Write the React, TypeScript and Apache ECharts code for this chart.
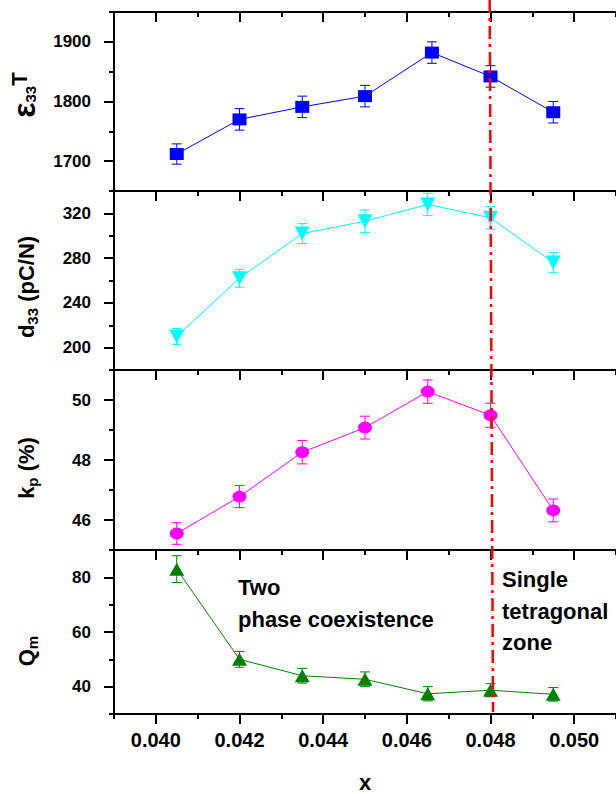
import React, { useEffect, useRef } from 'react';
import * as echarts from 'echarts';

// ---------- data ----------
const xValues = [0.0405, 0.042, 0.0435, 0.045, 0.0465, 0.048, 0.0495];
const xValuesTop = [0.0405, 0.042, 0.0435, 0.045, 0.0466, 0.048, 0.0495];

const epsValues = [1712, 1770, 1791, 1809, 1882, 1842, 1782];
const epsErrors = [17, 18, 18, 18, 18, 18, 18];

const d33Values = [210, 262, 302, 313, 328, 316, 276];
const d33Errors = [7, 8, 9, 10, 10, 10, 9];

const kpValues = [45.55, 46.78, 48.26, 49.08, 50.28, 49.49, 46.32];
const kpErrors = [0.36, 0.37, 0.39, 0.38, 0.39, 0.4, 0.38];

const qmValues = [83, 50, 44, 42.7, 37.4, 38.7, 37.2];
const qmErrors = [4.9, 2.9, 2.7, 2.7, 2.6, 2.4, 2.5];

// axis ranges: short ticks every `step` from min, long (labelled) ticks halfway between
const xRange = [0.039, 0.051];
const xStep = 0.002;
const xLabels = [0.04, 0.042, 0.044, 0.046, 0.048, 0.05];

const epsRange = [1650, 1950];
const epsStep = 100;
const epsLabels = [1700, 1800, 1900];
const d33Range = [180, 340];
const d33Step = 40;
const d33Labels = [200, 240, 280, 320];
const kpRange = [45, 51];
const kpStep = 2;
const kpLabels = [46, 48, 50];
const qmRange = [30, 90];
const qmStep = 20;
const qmLabels = [40, 60, 80];

// boundary line x (top, bottom)
const boundaryX = [0.04798, 0.04806];

// ---------- styling / layout ----------
const FONT = '"Liberation Sans", Arial, Helvetica, sans-serif';
const GRID_LEFT = 114;
const GRID_WIDTH = 503;
const gridTops = [12, 191, 370, 550];
const gridHeights = [179, 179, 180, 179];

const panels = [
  { x: xValuesTop, y: epsValues, err: epsErrors, range: epsRange, step: epsStep, labels: epsLabels, color: '#0000ff', symbol: 'rect', size: [14, 12], rotate: 0 },
  { x: xValues, y: d33Values, err: d33Errors, range: d33Range, step: d33Step, labels: d33Labels, color: '#00ffff', symbol: 'triangle', size: [15, 14], rotate: 180 },
  { x: xValues, y: kpValues, err: kpErrors, range: kpRange, step: kpStep, labels: kpLabels, color: '#ff00ff', symbol: 'circle', size: [14, 12], rotate: 0 },
  { x: xValues, y: qmValues, err: qmErrors, range: qmRange, step: qmStep, labels: qmLabels, color: '#008000', symbol: 'triangle', size: [15, 13], rotate: 0 },
];

const lineStyleAxis = { color: '#000', width: 2 };

function buildOption() {
  const grid = gridTops.map((t, i) => ({ left: GRID_LEFT, top: t, width: GRID_WIDTH, height: gridHeights[i] }));

  const xAxes: any[] = panels.map((p, i) => ({
    type: 'value', gridIndex: i, position: 'bottom', min: xRange[0], max: xRange[1], interval: xStep,
    axisLine: { show: true, onZero: false, lineStyle: lineStyleAxis },
    axisTick: { show: true, inside: false, length: 5, lineStyle: lineStyleAxis },
    minorTick: { show: true, splitNumber: 2, length: 10, lineStyle: lineStyleAxis },
    axisLabel: i === 3
      ? { show: true, customValues: xLabels, formatter: (v: number) => v.toFixed(3), fontSize: 20, fontWeight: 'bold', fontFamily: FONT, color: '#000', margin: 16 }
      : { show: false },
    splitLine: { show: false },
    minorSplitLine: { show: false },
    name: i === 3 ? 'x' : '',
    nameLocation: 'middle', nameGap: 57,
    nameTextStyle: { fontSize: 22, fontWeight: 'bold', fontFamily: FONT, color: '#000' },
  }));
  xAxes.push({
    type: 'value', gridIndex: 0, position: 'top', min: xRange[0], max: xRange[1], interval: xStep,
    axisLine: { show: true, onZero: false, lineStyle: lineStyleAxis },
    axisTick: { show: true, inside: true, length: 5, lineStyle: lineStyleAxis },
    minorTick: { show: true, splitNumber: 2, length: 10, lineStyle: lineStyleAxis },
    axisLabel: { show: false }, splitLine: { show: false }, minorSplitLine: { show: false },
  });

  const yAxes = panels.map((p, i) => ({
    type: 'value', gridIndex: i, position: 'left', min: p.range[0], max: p.range[1], interval: p.step,
    axisLine: { show: true, onZero: false, lineStyle: lineStyleAxis },
    axisTick: { show: true, inside: false, length: 5, lineStyle: lineStyleAxis },
    minorTick: { show: true, splitNumber: 2, length: 10, lineStyle: lineStyleAxis },
    axisLabel: { show: true, customValues: p.labels, formatter: (v: number) => String(v), fontSize: 17, fontWeight: 'bold', fontFamily: FONT, color: '#000', margin: 23 },
    splitLine: { show: false },
    minorSplitLine: { show: false },
  }));

  const series: any[] = [];
  panels.forEach((p, i) => {
    series.push({
      type: 'custom', xAxisIndex: i, yAxisIndex: i, z: 1, silent: true,
      data: p.x.map((xv, k) => [xv, p.y[k] - p.err[k], p.y[k] + p.err[k]]),
      encode: { x: 0, y: [1, 2] },
      renderItem: (params: any, api: any) => {
        const xv = api.value(0);
        const lo = api.coord([xv, api.value(1)]);
        const hi = api.coord([xv, api.value(2)]);
        const hw = 5;
        const style = { stroke: p.color, lineWidth: 1, fill: 'none' };
        return {
          type: 'group',
          children: [
            { type: 'line', shape: { x1: lo[0], y1: lo[1], x2: hi[0], y2: hi[1] }, style },
            { type: 'line', shape: { x1: lo[0] - hw, y1: lo[1], x2: lo[0] + hw, y2: lo[1] }, style },
            { type: 'line', shape: { x1: hi[0] - hw, y1: hi[1], x2: hi[0] + hw, y2: hi[1] }, style },
          ],
        };
      },
    });
    series.push({
      type: 'line', xAxisIndex: i, yAxisIndex: i, z: 3,
      data: p.x.map((xv, k) => [xv, p.y[k]]),
      symbol: p.symbol, symbolSize: p.size, symbolRotate: p.rotate,
      itemStyle: { color: p.color, borderWidth: 0 },
      lineStyle: { color: p.color, width: 1 },
    });
  });

  return { animation: false, backgroundColor: '#ffffff', grid, xAxis: xAxes, yAxis: yAxes, series };
}

function richTitle(text: string, x: number, y: number, rich: any) {
  return {
    type: 'text', x, y, rotation: Math.PI / 2, z: 20,
    style: { text, rich, align: 'center', verticalAlign: 'middle', fill: '#000', fontFamily: FONT, fontWeight: 'bold', fontSize: 22 },
  };
}

const base = { fontFamily: FONT, fontWeight: 'bold', fill: '#000' };

function annotation(text: string, x: number, y: number) {
  return {
    type: 'text', x, y, z: 20,
    style: { text, align: 'left', verticalAlign: 'middle', fill: '#000', fontFamily: FONT, fontWeight: 'bold', fontSize: 22 },
  };
}

export default function App() {
  const ref = useRef<HTMLDivElement>(null);
  useEffect(() => {
    const chart = echarts.init(ref.current!, null, { renderer: 'svg' });
    chart.setOption(buildOption() as any);

    const xTopPx = chart.convertToPixel({ xAxisIndex: 0 } as any, boundaryX[0]) as number;
    const xBotPx = chart.convertToPixel({ xAxisIndex: 3 } as any, boundaryX[1]) as number;
    const yBotPx = (chart.convertToPixel({ yAxisIndex: 3 } as any, qmRange[0]) as number) - 2;

    const graphics: any[] = [
      richTitle('{e|ε}{s|33}{t|T}', 24, 95, {
        e: { ...base, fontSize: 32 },
        s: { ...base, fontSize: 15, padding: [12, 0, 0, 0] },
        t: { ...base, fontSize: 22, padding: [0, 0, 10, 0] },
      }),
      richTitle('{a|d}{s|33}{a| (pC/N)}', 26, 287, { a: { ...base, fontSize: 22 }, s: { ...base, fontSize: 15, padding: [12, 0, 0, 0] } }),
      richTitle('{a|k}{s|p}{a| (%)}', 26, 468, { a: { ...base, fontSize: 22 }, s: { ...base, fontSize: 15, padding: [12, 0, 0, 0] } }),
      richTitle('{a|Q}{s|m}', 26, 651, { a: { ...base, fontSize: 22 }, s: { ...base, fontSize: 15, padding: [12, 0, 0, 0] } }),
      annotation('Two', 238, 587),
      annotation('phase coexistence', 238, 619),
      annotation('Single', 502, 579),
      annotation('tetragonal', 502, 611),
      annotation('zone', 502, 642),
      {
        type: 'line', z: 30, silent: true,
        shape: { x1: xTopPx, y1: 0, x2: xBotPx, y2: yBotPx },
        style: { stroke: '#ff0000', lineWidth: 2.5, lineDash: [13, 5, 3, 5] },
      },
    ];
    chart.setOption({ graphic: { elements: graphics } } as any);

    return () => chart.dispose();
  }, []);

  return (
    <div
      ref={ref}
      style={{ position: 'absolute', left: 0, top: 0, width: 616, height: 794, background: '#fff' }}
    />
  );
}
